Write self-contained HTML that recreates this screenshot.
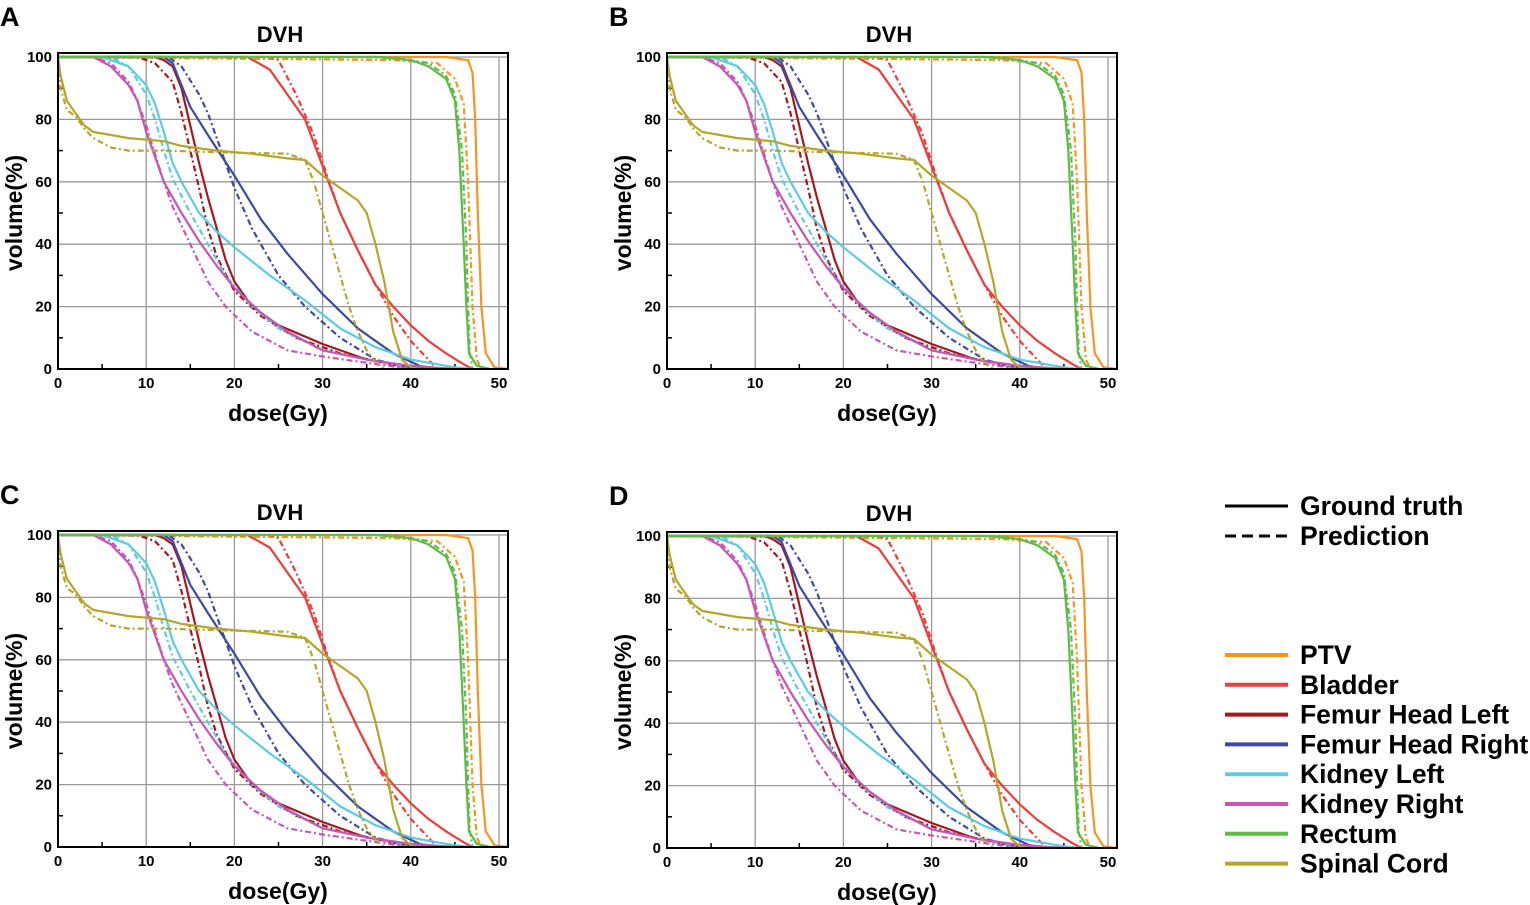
<!DOCTYPE html>
<html><head><meta charset="utf-8"><style>
html,body{margin:0;padding:0;background:#fff;}
svg{display:block;font-family:"Liberation Sans",Arial,sans-serif;font-weight:bold;}
</style></head><body>
<svg id="s" width="1530" height="905" xmlns="http://www.w3.org/2000/svg"></svg>
<script>
const C={PTV:"#f7931e",Bladder:"#ee3b3b",FL:"#a3181e",FR:"#3c4aa0",KL:"#5ccbe0",KR:"#c556b4",Rec:"#5dbb46",Sp:"#b5a52a"};
const D=[
["PTV",0,[[0,100],[44,100],[46.5,99],[47,95],[47.3,80],[47.6,50],[48,20],[48.5,5],[49.5,0.5],[51,0]]],
["PTV",1,[[0,100],[38,99],[43,98],[45,93],[46,85],[46.5,60],[47,20],[47.5,3],[48,0]]],
["Bladder",0,[[0,100],[21.5,100],[24,96],[26,88],[28,80],[30,65],[32,50],[34,38],[36,27],[38,20],[40,14],[42,9],[44,5],[46,1.5],[47,0]]],
["Bladder",1,[[0,100],[24,100],[25,99],[27,88],[29,75],[30.5,62],[32,50],[34,38],[36,27],[38,17],[40,9],[42,3],[43,0]]],
["FL",0,[[0,100],[11,100],[12,99],[13,97],[14,90],[15,78],[16,66],[17,55],[18,45],[19,35],[20,28],[22,20],[25,14],[30,8],[35,3],[40,0.5],[42,0]]],
["FL",1,[[0,100],[9,100],[11,98],[13,92],[14,82],[15,70],[16,58],[17,45],[18,36],[20,25],[23,17],[27,10],[32,5],[37,2],[40,0]]],
["FR",0,[[0,100],[12,100],[13,98],[14,91],[15,84],[17,75],[20,62],[23,48],[26,37],[30,24],[34,13],[38,5],[41,1],[43,0]]],
["FR",1,[[0,100],[12.5,100],[14,97],[16,88],[17,82],[19,66],[20,58],[22,45],[25,30],[28,20],[32,10],[36,3],[40,0]]],
["KL",0,[[0,100],[5,100],[8,97],[10,91],[11,85],[12,76],[13,66],[14,60],[16,50],[18,44],[20,39],[24,30],[28,22],[32,13],[36,7],[40,3],[45,0.5],[47,0]]],
["KL",1,[[0,100],[6,100],[8,97],[10,88],[11,80],[12,70],[13,61],[15,50],[17,40],[19,30],[22,20],[25,13],[30,6],[35,3],[40,0.5],[42,0]]],
["KR",0,[[0,100],[4,100],[6,97],[8,91],[9,86],[10,76],[11,68],[12,60],[14,50],[16,41],[18,33],[20,26],[23,18],[26,12],[30,6],[35,3],[40,1],[45,0]]],
["KR",1,[[0,100],[4,100],[6,98],[8,92],[9,86],[10,78],[11,69],[12,60],[13,52],[15,40],[17,28],[19,20],[22,12],[26,6],[30,4],[35,2],[40,0]]],
["Rec",0,[[0,100],[36,100],[40,99],[42,97],[44,93],[45,86],[45.5,70],[46,40],[46.3,20],[46.6,5],[47.5,1],[49,0]]],
["Rec",1,[[0,100],[38,100],[42,98],[44,94],[45,88],[45.8,70],[46.3,40],[46.5,20],[46.7,5],[47,0]]],
["Sp",0,[[0,100],[0.3,94],[1,86],[2,82],[3,78],[4,76],[6,75],[8,74],[12,73],[14,71.5],[18,70],[22,69],[26,67.5],[28,67],[30,62],[32,58],[34,54],[35,50],[36,40],[37,28],[38,12],[39,3],[40,0.5],[41,0]]],
["Sp",1,[[0,100],[0.3,90],[1,83],[2,81],[3,77],[4,74],[6,71],[8,70],[12,70],[18,69.5],[26,69],[28,67],[29,60],[30,50],[31,40],[32,30],[33,20],[34,12],[35,6],[36,2],[37,0]]]
];
let h="";
const P=[["A",0,0],["B",609,0],["C",0,478],["D",609,479]];
for(const [L,dx,dy] of P){
 const x0=58+dx, y0=369+dy, sx=8.82, sy=3.12;
 const X=v=>x0+v*sx, Y=v=>y0-v*sy;
 h+=`<text x="${dx}" y="${26+dy}" font-size="27">${L}</text>`;
 h+=`<text x="${280+dx}" y="${42+dy}" font-size="22" text-anchor="middle">DVH</text>`;
 for(let g=0;g<=50;g+=10) h+=`<line x1="${X(g)}" y1="${Y(0)}" x2="${X(g)}" y2="${Y(100)}" stroke="#999" stroke-width="1.3"/>`;
 for(let g=20;g<=100;g+=20) h+=`<line x1="${x0}" y1="${Y(g)}" x2="${x0+450}" y2="${Y(g)}" stroke="#999" stroke-width="1.3"/>`;
 for(let g=5;g<50;g+=10) h+=`<line x1="${X(g)}" y1="${y0}" x2="${X(g)}" y2="${y0-5}" stroke="#000" stroke-width="1.5"/>`;
 for(let g=10;g<100;g+=20) h+=`<line x1="${x0}" y1="${Y(g)}" x2="${x0+5}" y2="${Y(g)}" stroke="#000" stroke-width="1.5"/>`;
 for(const [k,d,pts] of D){
  h+=`<polyline fill="none" stroke="${C[k]}" stroke-width="2.2" ${d?'stroke-dasharray="6,3,2,3"':''} points="${pts.map(p=>X(p[0]).toFixed(1)+','+Y(p[1]).toFixed(1)).join(' ')}"/>`;
 }
 h+=`<rect x="${x0}" y="${53+dy}" width="450" height="${y0-53-dy}" fill="none" stroke="#000" stroke-width="2"/>`;
 for(let g=0;g<=100;g+=20) h+=`<text x="${x0-6}" y="${Y(g)+5}" font-size="15" text-anchor="end">${g}</text>`;
 for(let g=0;g<=50;g+=10) h+=`<text x="${X(g)}" y="${y0+19}" font-size="15" text-anchor="middle">${g}</text>`;
 h+=`<text x="${278+dx}" y="${421+dy}" font-size="23" text-anchor="middle">dose(Gy)</text>`;
 h+=`<text transform="translate(${22+dx},${213+dy}) rotate(-90)" font-size="23" text-anchor="middle">volume(%)</text>`;
}
h+=`<line x1="1225" y1="506" x2="1288" y2="506" stroke="#000" stroke-width="3"/><text x="1300" y="515" font-size="26.5">Ground truth</text>`;
h+=`<line x1="1225" y1="536" x2="1288" y2="536" stroke="#000" stroke-width="3" stroke-dasharray="11,6"/><text x="1300" y="545" font-size="26.5">Prediction</text>`;
const LG=[["PTV","PTV"],["Bladder","Bladder"],["FL","Femur Head Left"],["FR","Femur Head Right"],["KL","Kidney Left"],["KR","Kidney Right"],["Rec","Rectum"],["Sp","Spinal Cord"]];
LG.forEach(([k,t],i)=>{const y=655+i*29.8;h+=`<line x1="1225" y1="${y}" x2="1288" y2="${y}" stroke="${C[k]}" stroke-width="4"/><text x="1300" y="${y+9}" font-size="26.5">${t}</text>`;});
document.getElementById("s").innerHTML=h;
</script>
</body></html>
